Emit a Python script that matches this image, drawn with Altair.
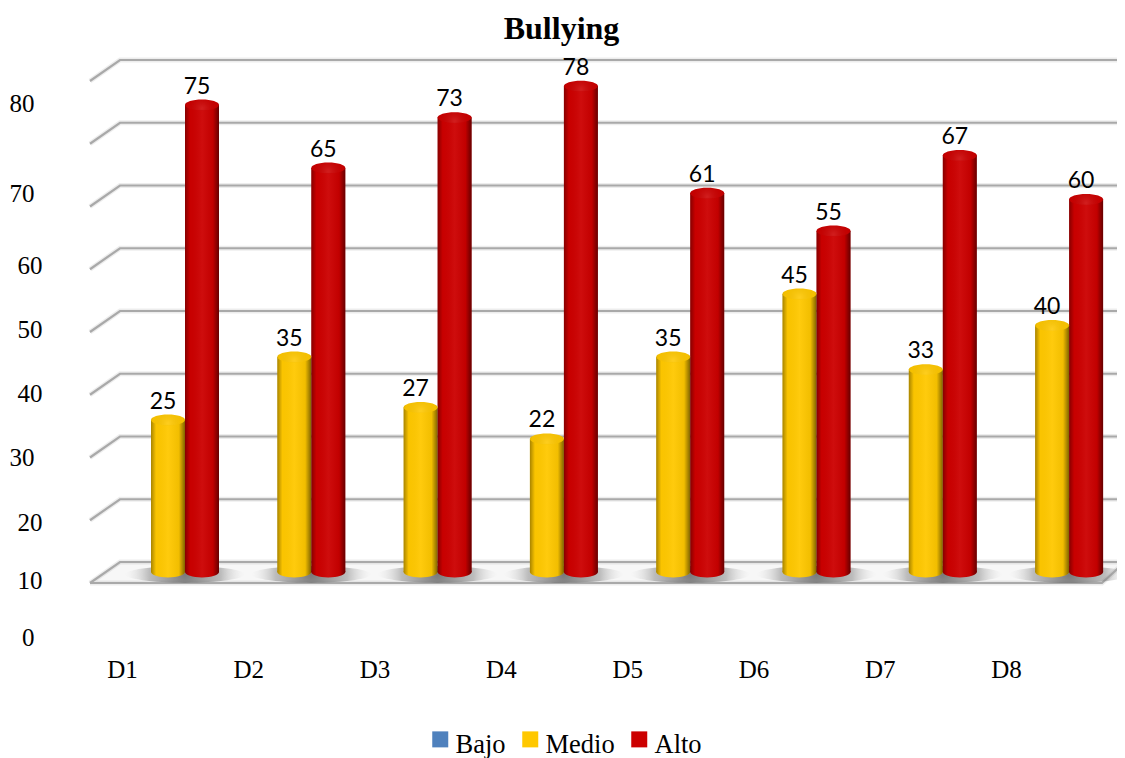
import altair as alt
import pandas as pd

days = ["D1", "D2", "D3", "D4", "D5", "D6", "D7", "D8"]
medio = [25, 35, 27, 22, 35, 45, 33, 40]
alto = [75, 65, 73, 78, 61, 55, 67, 60]
series = ["Bajo", "Medio", "Alto"]
series_colors = ["#4f81bd", "#ffc800", "#cc0000"]
ticks = [0, 10, 20, 30, 40, 50, 60, 70, 80]
grid_levels = [0, 10, 20, 30, 40, 50, 60, 70, 80]

# layout in screen pixels
ORIGIN_X, ORIGIN_Y = 50, 50
PLOT_W, PLOT_H = 1067, 582
STEP = 126.3
def u(px):
    return 1 + (px - 185) / STEP
def ry(px):
    return px - ORIGIN_Y

x_scale = alt.Scale(domain=[u(50), u(1117)], nice=False, zero=False, padding=0)
bar_y = alt.Scale(domain=[0, 80], range=[ry(577.5), ry(73.5)], nice=False)
grid_y = alt.Scale(domain=[0, 80], range=[ry(562), ry(60)], nice=False)
tick_y = alt.Scale(domain=ticks, range=[ry(p) for p in [637, 580, 522, 457, 393, 329, 265, 193, 103]])
color = alt.Scale(domain=series, range=series_colors)

x_axis = alt.Axis(
    values=list(range(1, len(days) + 1)), labelExpr="'D' + datum.value", title=None, domain=False, ticks=False, grid=False,
    labelFont="Liberation Serif", labelFontSize=25, labelColor="#000000", labelOffset=-63, labelPadding=25,
    labelFlush=False, labelOverlap=False)
legend = alt.Legend(
    orient="none", legendX=427 - ORIGIN_X, legendY=732 - ORIGIN_Y, direction="horizontal", title=None,
    symbolType="M-1,-1.75 H1 V0.25 H-1 Z", symbolSize=256, symbolStrokeWidth=0, labelFont="Liberation Serif", labelFontSize=26.5,
    labelColor="#000000", labelOffset=2, columnPadding=11, labelBaseline="middle", values=series)

rows = []
for i, d in enumerate(days):
    rows.append(dict(day=d, idx=i + 1, series="Medio", value=medio[i], pos=i + 1 - 17 / STEP))
    rows.append(dict(day=d, idx=i + 1, series="Alto", value=alto[i], pos=i + 1 + 17 / STEP))
bars = pd.DataFrame(rows)
BASE = 0.87
centers = pd.DataFrame({"idx": [i + 1 for i in range(len(days))], "value": [0.5] * len(days)})

depth = 21 / 6.275
x_front_l, x_back_l, x_front_r, x_back_r = u(90), u(120), u(1102), u(1125)
lines = []
for v in grid_levels[1:]:
    lines += [dict(level=v, o=0, x=x_front_l, y=v - depth), dict(level=v, o=1, x=x_back_l, y=v), dict(level=v, o=2, x=x_back_r, y=v)]
lines += [dict(level=0, o=k, x=a, y=b) for k, (a, b) in enumerate([
    (x_front_l, -depth), (x_back_l, 0), (x_back_r, 0), (x_front_r, -depth), (x_front_l, -depth)])]
lines = pd.DataFrame(lines)
floor = pd.DataFrame([
    dict(x=x_front_l, y=-depth, y2=-depth), dict(x=x_back_l, y=0, y2=-depth),
    dict(x=x_front_r, y=0, y2=-depth), dict(x=x_back_r, y=0, y2=0)])

X = alt.X("pos:Q", scale=x_scale, axis=x_axis)
Ybar = alt.Y("value:Q", scale=bar_y, axis=None)
Ybase = alt.Y("base:Q", scale=bar_y, axis=None)
ELL = "M-1,0 A1,0.32 0 1,1 1,0 A1,0.32 0 1,1 -1,0 Z"
SHADOW = "M-1,0 A1,0.14 0 1,1 1,0 A1,0.14 0 1,1 -1,0 Z"
shade = alt.LinearGradient(gradient="linear", x1=0, x2=1, y1=0, y2=0, stops=[
    alt.GradientStop(offset=0, color="rgba(0,0,0,0.34)"),
    alt.GradientStop(offset=0.15, color="rgba(0,0,0,0.02)"),
    alt.GradientStop(offset=0.5, color="rgba(255,255,255,0.05)"),
    alt.GradientStop(offset=0.82, color="rgba(0,0,0,0.05)"),
    alt.GradientStop(offset=1, color="rgba(0,0,0,0.5)")])
shadow_fill = alt.RadialGradient(gradient="radial", x1=0.5, y1=0.5, x2=0.5, y2=0.5, r1=0, r2=0.5, stops=[
    alt.GradientStop(offset=0, color="rgba(90,90,90,0.8)"),
    alt.GradientStop(offset=0.6, color="rgba(130,130,130,0.5)"),
    alt.GradientStop(offset=1, color="rgba(220,220,220,0)")])
cap_fill = alt.RadialGradient(gradient="radial", x1=0.5, y1=0.6, x2=0.5, y2=0.6, r1=0, r2=0.6, stops=[
    alt.GradientStop(offset=0, color="rgba(255,255,255,0.12)"),
    alt.GradientStop(offset=0.75, color="rgba(0,0,0,0.04)"),
    alt.GradientStop(offset=1, color="rgba(0,0,0,0.2)")])

floor_area = alt.Chart(floor).mark_area(color="#f7f7f7", line=False).encode(
    x=alt.X("x:Q", scale=x_scale, axis=x_axis),
    y=alt.Y("y:Q", scale=grid_y, axis=None), y2="y2:Q")

grid_soft = alt.Chart(lines).mark_line(color="#000000", opacity=0.07, strokeWidth=5).encode(
    x=alt.X("x:Q", scale=x_scale, axis=x_axis),
    y=alt.Y("y:Q", scale=grid_y, axis=None), order="o:Q", detail="level:N")
grid = alt.Chart(lines).mark_line(color="#a9a9a9", strokeWidth=2.2).encode(
    x=alt.X("x:Q", scale=x_scale, axis=x_axis),
    y=alt.Y("y:Q", scale=grid_y, axis=None), order="o:Q", detail="level:N")

shadow = alt.Chart(centers).mark_point(shape=SHADOW, filled=True, size=14400, fill=shadow_fill, opacity=1).encode(
    x=alt.X("idx:Q", scale=x_scale, axis=x_axis),
    y=alt.Y("value:Q", scale=bar_y, axis=None))

with_base = alt.Chart(bars).transform_calculate(base=str(BASE))
body = with_base.mark_bar(size=34, orient="vertical").encode(
    x=X, y=Ybar, y2="base:Q", color=alt.Color("series:N", scale=color, legend=legend))
bottom = with_base.mark_point(shape=ELL, filled=True, size=1156, opacity=1).encode(
    x=X, y=Ybase, color=alt.Color("series:N", scale=color, legend=legend))
bottom_shade = with_base.mark_point(shape=ELL, filled=True, size=1156, fill=shade, opacity=1).encode(x=X, y=Ybase)
body_shade = with_base.mark_bar(size=34, orient="vertical", color=shade).encode(x=X, y=Ybar, y2="base:Q")
cap = alt.Chart(bars).mark_point(shape=ELL, filled=True, size=1156, opacity=1).encode(
    x=X, y=Ybar, color=alt.Color("series:N", scale=color, legend=legend))
cap_shade = alt.Chart(bars).mark_point(shape=ELL, filled=True, size=1156, fill=cap_fill, opacity=1).encode(x=X, y=Ybar)

labels = alt.Chart(bars).mark_text(font="Lato", fontSize=23, color="#000000", baseline="alphabetic", dx=-5, dy=-11.5).encode(
    x=X, y=Ybar, text="value:Q")

tick_df = pd.DataFrame({"t": ticks, "pos": [1 + i for i in range(len(ticks))]})
axes = alt.Chart(tick_df).mark_point(opacity=0, size=1).encode(
    x=alt.X("pos:Q", scale=x_scale, axis=x_axis),
    y=alt.Y("t:Q", scale=tick_y, axis=alt.Axis(
        values=ticks, title=None, domain=False, ticks=False, grid=False, labelFont="Liberation Serif", labelFontSize=25,
        labelColor="#000000", labelOverlap=False, labelFlush=False,
        labelPadding={"condition": {"test": "datum.value == 0 || datum.value == 30 || datum.value == 70 || datum.value == 80", "value": 16}, "value": 8})))

chart = alt.layer(
    floor_area, grid_soft, grid, shadow, bottom, bottom_shade, body, body_shade, cap, cap_shade, labels, axes
).resolve_scale(y="independent").properties(
    width=PLOT_W, height=PLOT_H,
    title=alt.TitleParams("Bullying", font="Liberation Serif", fontSize=32, fontWeight="bold", color="#000000",
                          anchor="middle", dx=-22, offset=4),
    autosize=alt.AutoSizeParams(type="none"),
    padding={"left": ORIGIN_X - 8, "top": ORIGIN_Y - 8, "right": 0, "bottom": 126},
).configure_view(stroke=None)

chart.save("out.html", embed_options={"renderer": "svg", "actions": False})
